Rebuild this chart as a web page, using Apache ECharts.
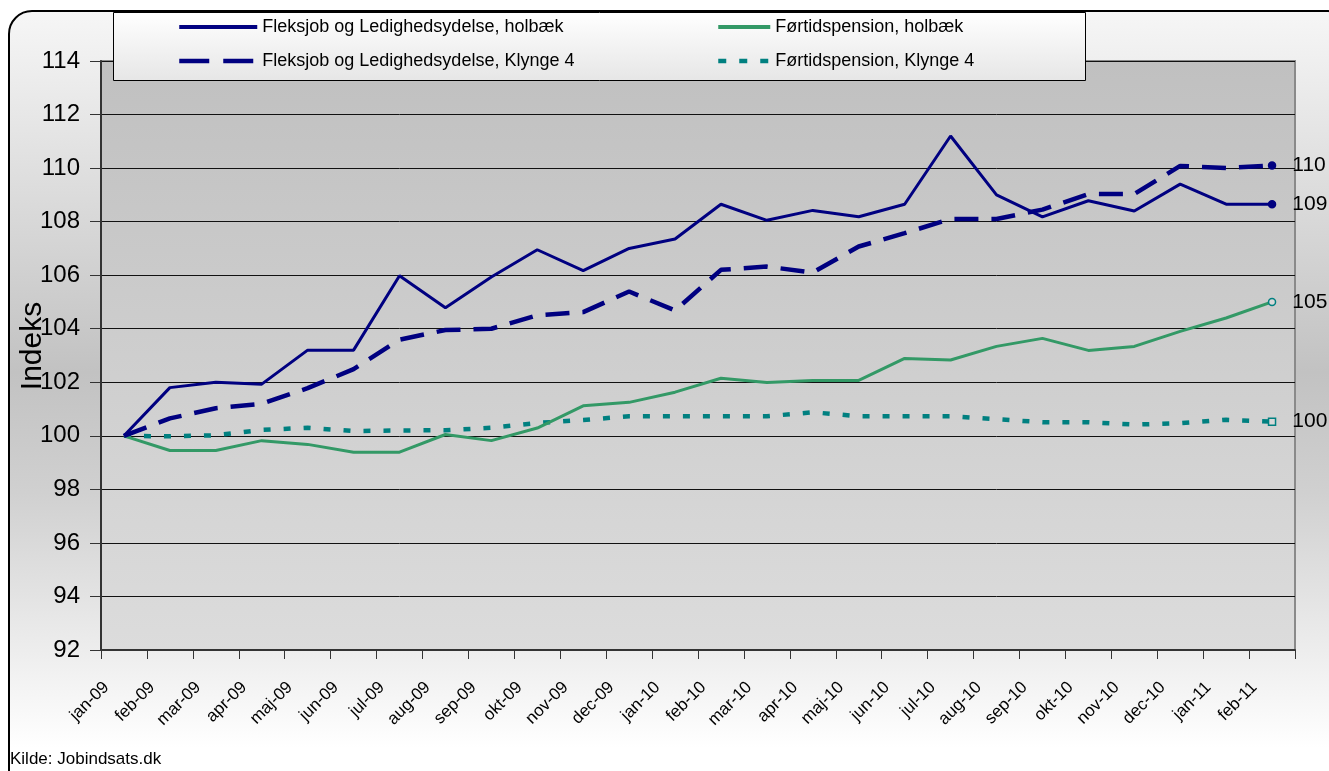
<!DOCTYPE html>
<html>
<head>
<meta charset="utf-8">
<script src="https://cdn.jsdelivr.net/npm/echarts@6/dist/echarts.min.js"></script>
<style>
html,body{margin:0;padding:0;background:#fff;overflow:hidden;}
#frame{position:absolute;left:8px;top:10px;width:1340px;height:800px;border:2px solid #000;border-radius:24px;
background:linear-gradient(to bottom,#f6f6f6 0%,#c2c2c2 45%,#d0d0d0 60%,#ffffff 92%);}
#chart{position:absolute;left:0;top:0;width:1329px;height:771px;}
</style>
</head>
<body>
<div id="frame"></div>
<div id="chart"></div>
<script>
const categories = ['jan-09','feb-09','mar-09','apr-09','maj-09','jun-09','jul-09','aug-09','sep-09','okt-09','nov-09','dec-09',
  'jan-10','feb-10','mar-10','apr-10','maj-10','jun-10','jul-10','aug-10','sep-10','okt-10','nov-10','dec-10','jan-11','feb-11'];
const fleksHolbaek = [100,101.8,102.0,101.93,103.2,103.2,105.98,104.78,105.93,106.95,106.17,107.0,107.35,108.65,108.05,108.42,108.18,108.65,111.2,109.0,108.18,108.78,108.4,109.4,108.65,108.65];
const fleksKlynge = [100,100.65,101.03,101.2,101.78,102.49,103.59,103.95,104.0,104.5,104.62,105.39,104.68,106.2,106.32,106.1,107.07,107.57,108.1,108.1,108.45,109.03,109.03,110.08,110.0,110.1];
const fortidHolbaek = [100,99.45,99.45,99.82,99.68,99.39,99.39,100.05,99.82,100.29,101.12,101.25,101.63,102.15,101.99,102.07,102.07,102.89,102.83,103.34,103.64,103.19,103.34,103.9,104.4,105.0];
const fortidKlynge = [100,99.98,100.02,100.22,100.3,100.18,100.2,100.21,100.3,100.48,100.59,100.73,100.73,100.73,100.73,100.88,100.73,100.73,100.73,100.62,100.51,100.51,100.42,100.47,100.6,100.53];
const endLabels = ['109','110','105','100'];
const seriesNames = ['Fleksjob og Ledighedsydelse, holbæk','Fleksjob og Ledighedsydelse, Klynge 4','Førtidspension, holbæk','Førtidspension, Klynge 4'];
const yTicks = [92,114,2];

const FONT = 'Liberation Sans, Arial, sans-serif';
function withEnd(arr, symbol, color, fill, idx){
  return arr.map((v,i)=> i===arr.length-1 ? {
    value:v, symbol:symbol, symbolSize:7,
    itemStyle:{color:fill, borderColor:color, borderWidth:1.5},
    label:{show:true, position:'right', distance:16, formatter:endLabels[idx], color:'#000', fontSize:21, fontFamily:FONT}
  } : v);
}
const chart = echarts.init(document.getElementById('chart'), null, {renderer:'canvas'});
const legendText = {fontSize:18,fontFamily:FONT,color:'#000'};
const option = {
  animation:false,
  backgroundColor:'transparent',
  grid:{left:101,right:34,top:61,bottom:121,show:true,borderColor:'#8a8a8a',borderWidth:2,
    backgroundColor:{type:'linear',x:0,y:0,x2:0,y2:1,colorStops:[{offset:0,color:'#c0c0c0'},{offset:1,color:'#dcdcdc'}]}},
  graphic:[
    {type:'rect',z:3,shape:{x:113.5,y:12.5,width:972,height:68},
      style:{fill:{type:'linear',x:0,y:0,x2:0,y2:1,colorStops:[{offset:0,color:'#ffffff'},{offset:1,color:'#e6e6e6'}]},stroke:'#000',lineWidth:1}},
    {type:'text',z:5,left:10,top:751,style:{text:'Kilde: Jobindsats.dk',fontSize:17,fontFamily:FONT,fill:'#000'}},
    {type:'text',z:5,x:33,y:346,rotation:Math.PI/2,style:{text:'Indeks',fontSize:30,fontFamily:FONT,fill:'#000',align:'center',verticalAlign:'middle'}}
  ],
  legend:[
    {z:6,orient:'vertical',left:177,top:18,padding:0,itemWidth:78,itemHeight:12,itemGap:16,itemTextGap:4,
      itemStyle:{opacity:0},
      data:[{name:seriesNames[0],lineStyle:{width:4}},{name:seriesNames[1],lineStyle:{width:4.5,type:[30,14]}}],textStyle:legendText},
    {z:6,orient:'vertical',left:716,top:18,padding:0,itemWidth:52,itemHeight:12,itemGap:16,itemTextGap:3,
      itemStyle:{opacity:0},
      data:[{name:seriesNames[2],lineStyle:{width:4}},{name:seriesNames[3],lineStyle:{width:4.5,type:[8,13]}}],textStyle:legendText}
  ],
  xAxis:{type:'category',data:categories,boundaryGap:true,
    axisLine:{show:true,lineStyle:{color:'#333',width:2}},
    axisTick:{show:true,inside:false,length:9,lineStyle:{color:'#333',width:1}},
    axisLabel:{rotate:45,fontSize:17,fontFamily:FONT,color:'#000',margin:17,padding:[0,25,0,0],interval:0},
    splitLine:{show:false}},
  yAxis:{type:'value',min:yTicks[0],max:yTicks[1],interval:yTicks[2],
    axisLine:{show:true,lineStyle:{color:'#333',width:2}},
    axisTick:{show:true,inside:false,length:11,lineStyle:{color:'#333',width:1}},
    axisLabel:{fontSize:24,fontFamily:FONT,color:'#000',margin:21},
    splitLine:{show:true,lineStyle:{color:'#111',width:1}}},
  series:[
    {name:seriesNames[0],type:'line',symbol:'none',showSymbol:true,color:'#000080',
      lineStyle:{color:'#000080',width:3},data:withEnd(fleksHolbaek,'circle','#000080','#000080',0),z:6},
    {name:seriesNames[1],type:'line',symbol:'none',showSymbol:true,color:'#000080',
      lineStyle:{color:'#000080',width:4.5,type:[24,13]},data:withEnd(fleksKlynge,'circle','#000080','#000080',1),z:5},
    {name:seriesNames[2],type:'line',symbol:'none',showSymbol:true,color:'#339966',
      lineStyle:{color:'#339966',width:3},data:withEnd(fortidHolbaek,'circle','#008080','#d8d8d8',2),z:4},
    {name:seriesNames[3],type:'line',symbol:'none',showSymbol:true,color:'#008080',
      lineStyle:{color:'#008080',width:4.5,type:[7,13]},data:withEnd(fortidKlynge,'rect','#008080','#d8d8d8',3),z:3}
  ]
};
chart.setOption(option);
</script>
</body>
</html>
